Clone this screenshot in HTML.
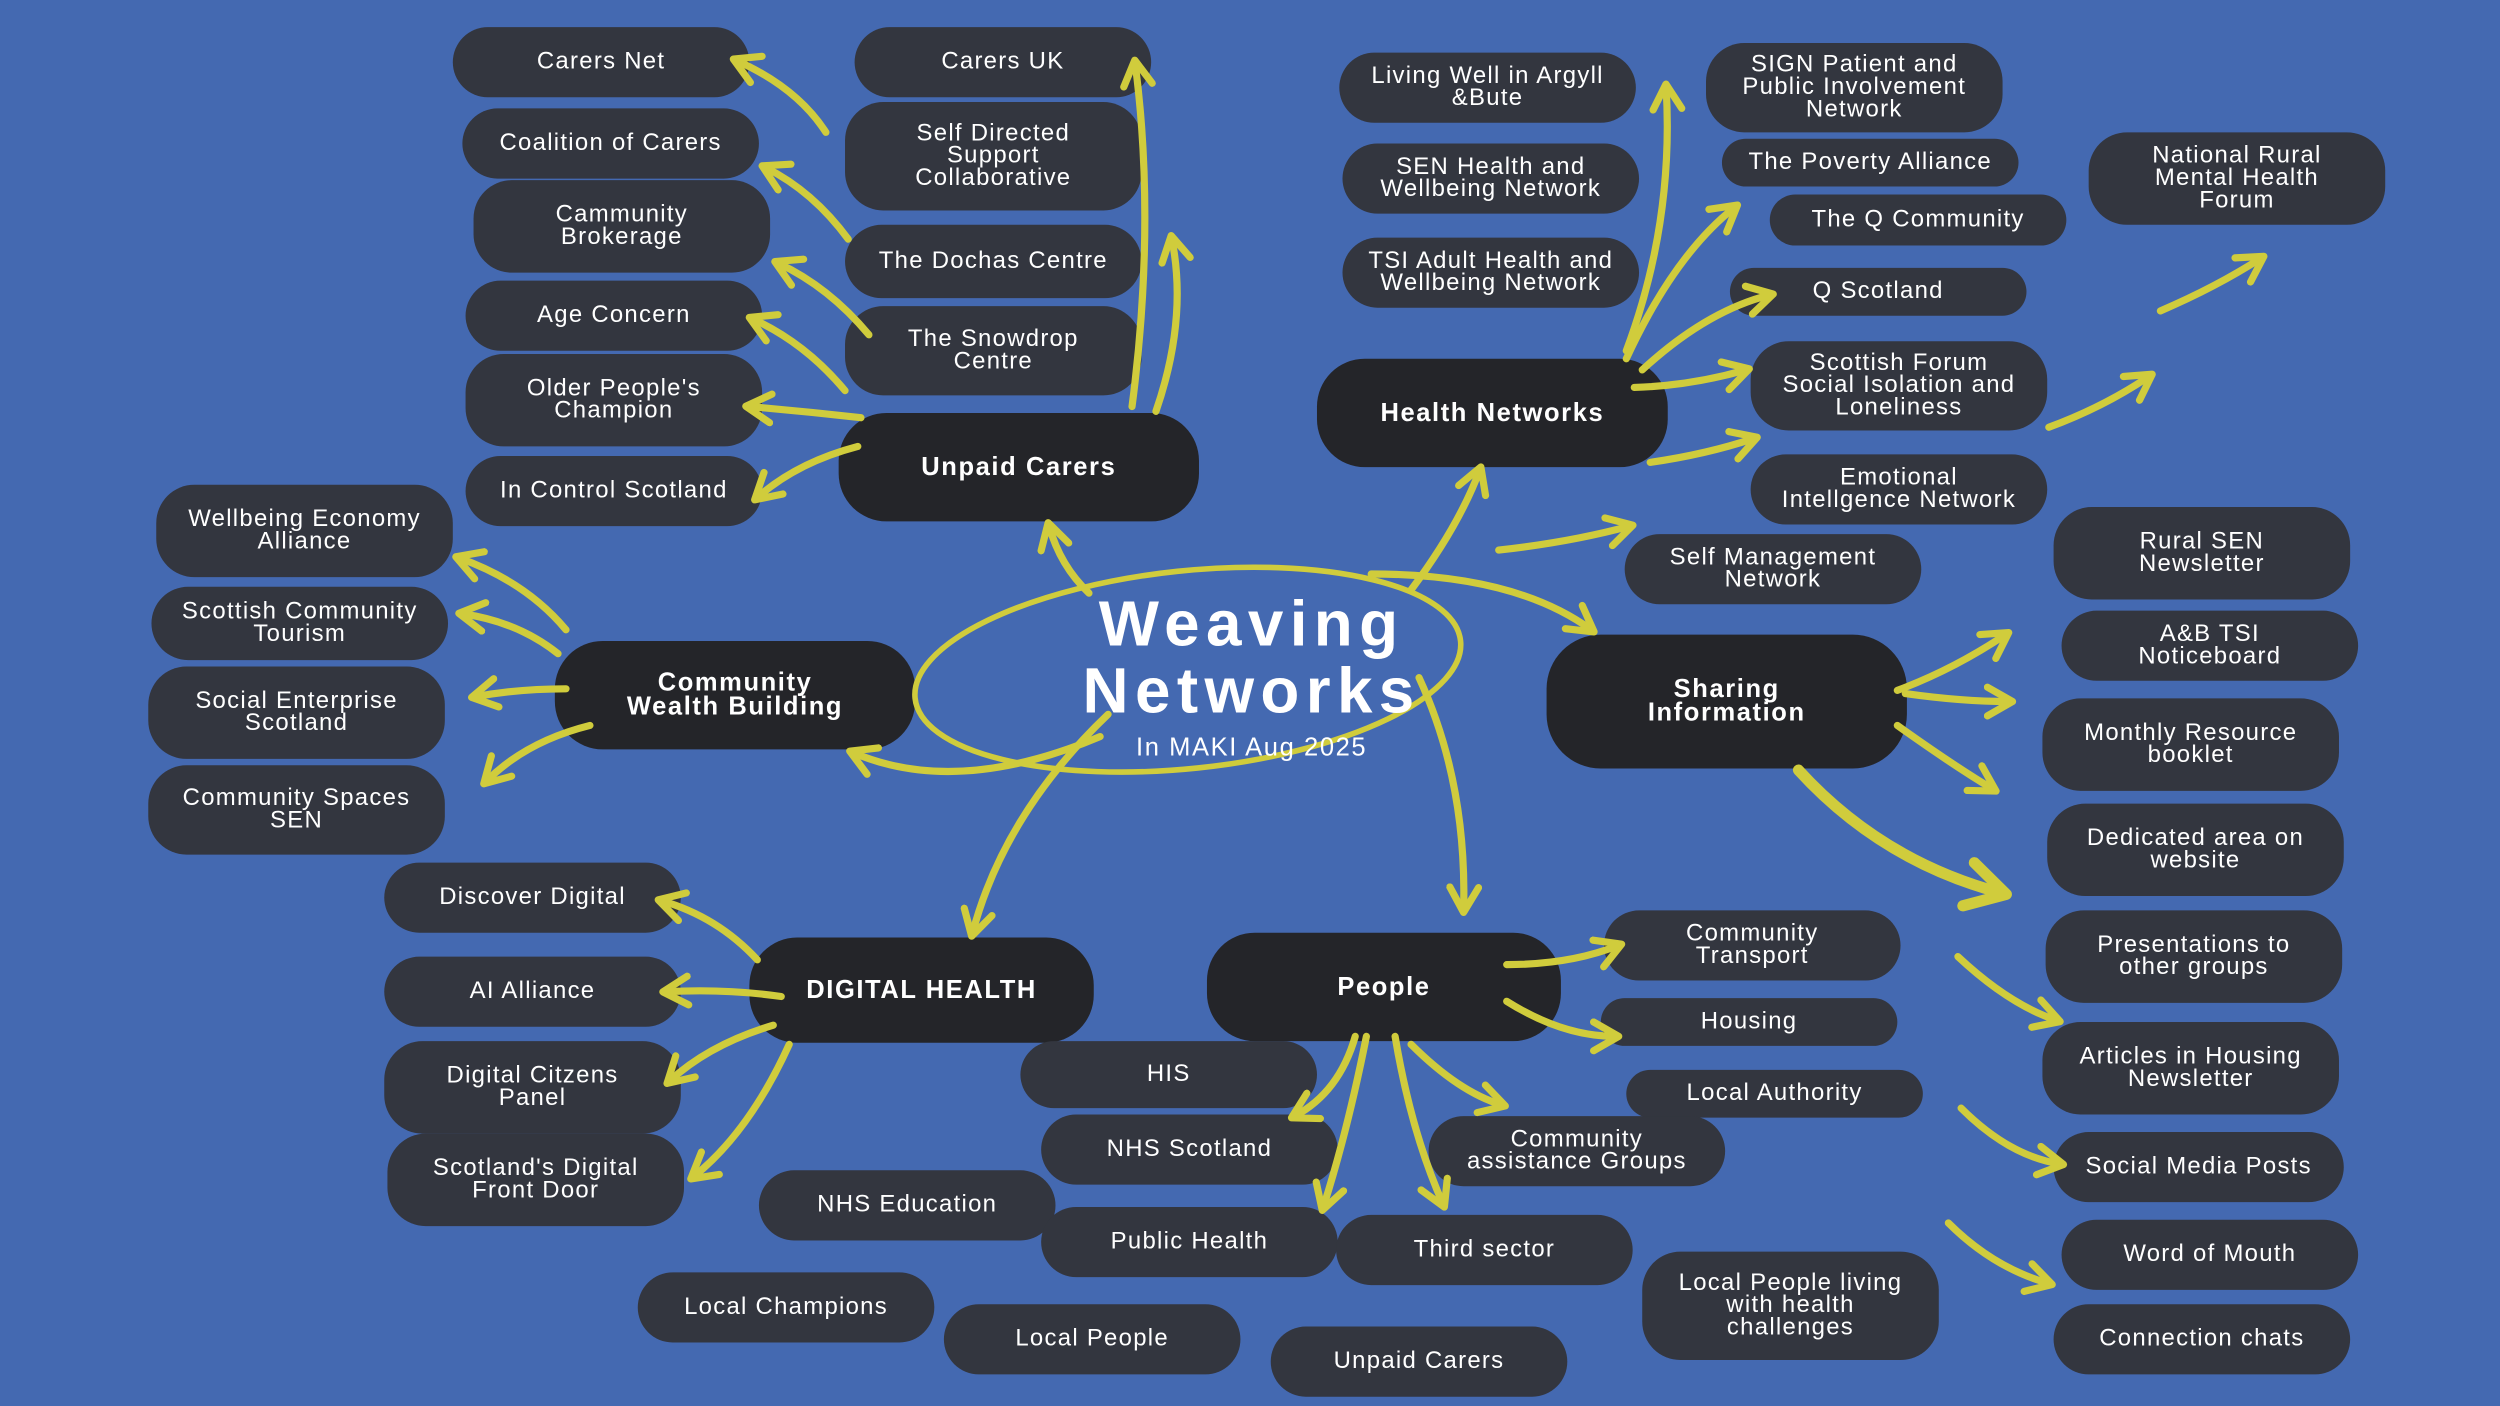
<!DOCTYPE html>
<html><head><meta charset="utf-8"><style>
html,body{margin:0;padding:0;width:2500px;height:1406px;overflow:hidden;background:#4469b1}
#c{position:absolute;left:0;top:0;width:1568px;height:882px;transform:scale(1.5944);transform-origin:0 0;font-family:"Liberation Sans","DejaVu Sans",sans-serif}
.p{position:absolute;background:#33363f;border-radius:24px;color:#fff;display:flex;align-items:center;justify-content:center;text-align:center;font-size:15px;line-height:14px;letter-spacing:0.8px}
.m{background:#242529;border-radius:30px;font-weight:bold;font-size:16px;line-height:15px;letter-spacing:1px}
svg{position:absolute;left:0;top:0}
.t{position:absolute;color:#fff;font-weight:bold;text-align:center;width:400px;left:585px;letter-spacing:4px}
</style></head><body><div id="c">
<div class="p" style="left:284px;top:17px;width:186px;height:44px">Carers Net</div>
<div class="p" style="left:536px;top:17px;width:186px;height:44px">Carers UK</div>
<div class="p" style="left:290px;top:68px;width:186px;height:44px">Coalition of Carers</div>
<div class="p" style="left:530px;top:64px;width:186px;height:68px">Self Directed<br>Support<br>Collaborative</div>
<div class="p" style="left:297px;top:113px;width:186px;height:58px">Cammunity<br>Brokerage</div>
<div class="p" style="left:530px;top:141px;width:186px;height:46px">The Dochas Centre</div>
<div class="p" style="left:292px;top:176px;width:186px;height:44px">Age Concern</div>
<div class="p" style="left:530px;top:192px;width:186px;height:56px">The Snowdrop<br>Centre</div>
<div class="p" style="left:292px;top:222px;width:186px;height:58px">Older People's<br>Champion</div>
<div class="p" style="left:292px;top:286px;width:186px;height:44px">In Control Scotland</div>
<div class="p m" style="left:526px;top:259px;width:226px;height:68px">Unpaid Carers</div>
<div class="p" style="left:840px;top:33px;width:186px;height:44px">Living Well in Argyll<br>&amp;Bute</div>
<div class="p" style="left:842px;top:90px;width:186px;height:44px">SEN Health and<br>Wellbeing Network</div>
<div class="p" style="left:842px;top:149px;width:186px;height:44px">TSI Adult Health and<br>Wellbeing Network</div>
<div class="p" style="left:1070px;top:27px;width:186px;height:56px">SIGN Patient and<br>Public Involvement<br>Network</div>
<div class="p" style="left:1080px;top:87px;width:186px;height:30px">The Poverty Alliance</div>
<div class="p" style="left:1110px;top:122px;width:186px;height:32px">The Q Community</div>
<div class="p" style="left:1085px;top:168px;width:186px;height:30px">Q Scotland</div>
<div class="p" style="left:1098px;top:214px;width:186px;height:56px">Scottish Forum<br>Social Isolation and<br>Loneliness</div>
<div class="p" style="left:1098px;top:285px;width:186px;height:44px">Emotional<br>Intellgence Network</div>
<div class="p m" style="left:826px;top:225px;width:220px;height:68px">Health Networks</div>
<div class="p" style="left:1310px;top:83px;width:186px;height:58px">National Rural<br>Mental Health<br>Forum</div>
<div class="p" style="left:1019px;top:335px;width:186px;height:44px">Self Management<br>Network</div>
<div class="p" style="left:1288px;top:318px;width:186px;height:58px">Rural SEN<br>Newsletter</div>
<div class="p" style="left:1293px;top:383px;width:186px;height:44px">A&amp;B TSI<br>Noticeboard</div>
<div class="p" style="left:1281px;top:438px;width:186px;height:58px">Monthly Resource<br>booklet</div>
<div class="p" style="left:1284px;top:504px;width:186px;height:58px">Dedicated area on<br>website</div>
<div class="p" style="left:1283px;top:571px;width:186px;height:58px">Presentations to<br>other groups</div>
<div class="p" style="left:1281px;top:641px;width:186px;height:58px">Articles in Housing<br>Newsletter</div>
<div class="p" style="left:1288px;top:710px;width:182px;height:44px">Social Media Posts</div>
<div class="p" style="left:1293px;top:765px;width:186px;height:44px">Word of Mouth</div>
<div class="p" style="left:1288px;top:818px;width:186px;height:44px">Connection chats</div>
<div class="p m" style="left:970px;top:398px;width:226px;height:84px;border-radius:34px">Sharing<br>Information</div>
<div class="p" style="left:98px;top:304px;width:186px;height:58px">Wellbeing Economy<br>Alliance</div>
<div class="p" style="left:95px;top:368px;width:186px;height:46px">Scottish Community<br>Tourism</div>
<div class="p" style="left:93px;top:418px;width:186px;height:58px">Social Enterprise<br>Scotland</div>
<div class="p" style="left:93px;top:480px;width:186px;height:56px">Community Spaces<br>SEN</div>
<div class="p m" style="left:348px;top:402px;width:226px;height:68px">Community<br>Wealth Building</div>
<div class="p" style="left:241px;top:541px;width:186px;height:44px">Discover Digital</div>
<div class="p" style="left:241px;top:600px;width:186px;height:44px">AI Alliance</div>
<div class="p" style="left:241px;top:653px;width:186px;height:58px">Digital Citzens<br>Panel</div>
<div class="p" style="left:243px;top:711px;width:186px;height:58px">Scotland's Digital<br>Front Door</div>
<div class="p m" style="left:470px;top:588px;width:216px;height:66px">DIGITAL HEALTH</div>
<div class="p" style="left:476px;top:734px;width:186px;height:44px">NHS Education</div>
<div class="p" style="left:400px;top:798px;width:186px;height:44px">Local Champions</div>
<div class="p" style="left:592px;top:818px;width:186px;height:44px">Local People</div>
<div class="p" style="left:653px;top:757px;width:186px;height:44px">Public Health</div>
<div class="p" style="left:653px;top:699px;width:186px;height:44px">NHS Scotland</div>
<div class="p" style="left:640px;top:653px;width:186px;height:42px">HIS</div>
<div class="p m" style="left:757px;top:585px;width:222px;height:68px">People</div>
<div class="p" style="left:1006px;top:571px;width:186px;height:44px">Community<br>Transport</div>
<div class="p" style="left:1004px;top:626px;width:186px;height:30px">Housing</div>
<div class="p" style="left:1020px;top:671px;width:186px;height:30px">Local Authority</div>
<div class="p" style="left:896px;top:700px;width:186px;height:44px">Community<br>assistance Groups</div>
<div class="p" style="left:838px;top:762px;width:186px;height:44px">Third sector</div>
<div class="p" style="left:797px;top:832px;width:186px;height:44px">Unpaid Carers</div>
<div class="p" style="left:1030px;top:785px;width:186px;height:68px">Local People living<br>with health<br>challenges</div>
<svg width="1568" height="882" viewBox="0 0 1568 882">
<defs><marker id="a" viewBox="0 0 10 10" refX="7" refY="5" markerWidth="5" markerHeight="5" orient="auto"><path d="M1 1 L8 5 L1 9" fill="none" stroke="#d0cc3c" stroke-width="2" stroke-linecap="round" stroke-linejoin="round"/></marker></defs>
<g fill="none" stroke="#d0cc3c" stroke-width="4.5" stroke-linecap="round" marker-end="url(#a)">
<ellipse cx="745" cy="420" rx="172" ry="62" transform="rotate(-6 745 420)" marker-end="none" stroke-width="3.5"/>
<path d="M518 83 Q500 55 462 38"/><path d="M532 150 Q510 120 480 105"/><path d="M545 210 Q520 180 488 165"/>
<path d="M530 245 Q505 215 472 200"/><path d="M540 262 Q505 258 470 255"/><path d="M538 280 Q500 290 475 312"/>
<path d="M710 255 Q725 140 712 40"/><path d="M725 258 Q745 200 735 150"/><path d="M683 372 Q665 355 658 330"/>
<path d="M885 370 Q915 330 928 295"/><path d="M1020 220 Q1050 140 1045 55"/><path d="M1020 225 Q1050 160 1088 130"/>
<path d="M1030 232 Q1070 195 1110 185"/><path d="M1025 243 Q1060 242 1095 232"/><path d="M1035 290 Q1070 285 1100 275"/>
<path d="M1285 268 Q1320 255 1348 236"/><path d="M1355 195 Q1390 180 1418 162"/><path d="M940 345 Q985 340 1022 330"/>
<path d="M860 360 Q950 360 998 395"/><path d="M1190 433 Q1225 420 1258 398"/><path d="M1195 435 Q1230 440 1260 440"/>
<path d="M1190 455 Q1225 480 1250 495"/><path d="M1128 483 Q1180 540 1255 560" stroke-width="7"/>
<path d="M1228 600 Q1260 630 1290 640"/><path d="M1230 695 Q1260 725 1292 730"/><path d="M1222 767 Q1250 795 1285 805"/>
<path d="M890 425 Q920 490 918 570"/><path d="M695 448 Q630 510 610 585"/>
<path d="M355 395 Q330 365 288 350"/><path d="M350 410 Q325 390 290 385"/><path d="M355 432 Q325 432 298 437"/><path d="M370 455 Q330 465 305 490"/>
<path d="M475 602 Q450 575 415 565"/><path d="M490 625 Q455 620 418 622"/><path d="M485 643 Q445 655 420 678"/><path d="M495 655 Q470 710 435 738"/>
<path d="M945 605 Q985 605 1015 593"/><path d="M945 628 Q980 650 1013 650"/><path d="M885 655 Q915 685 942 693"/>
<path d="M850 650 Q840 685 812 700"/><path d="M857 650 Q845 710 830 757"/><path d="M875 650 Q885 710 905 755"/>
<path d="M690 462 Q600 500 535 472"/>
</g></svg>
<div class="t" style="top:370px;font-size:40px">Weaving</div>
<div class="t" style="top:412px;font-size:40px">Networks</div>
<div class="t" style="top:461px;font-size:16px;font-weight:normal;letter-spacing:1px">In MAKI Aug 2025</div>
</div></body></html>
